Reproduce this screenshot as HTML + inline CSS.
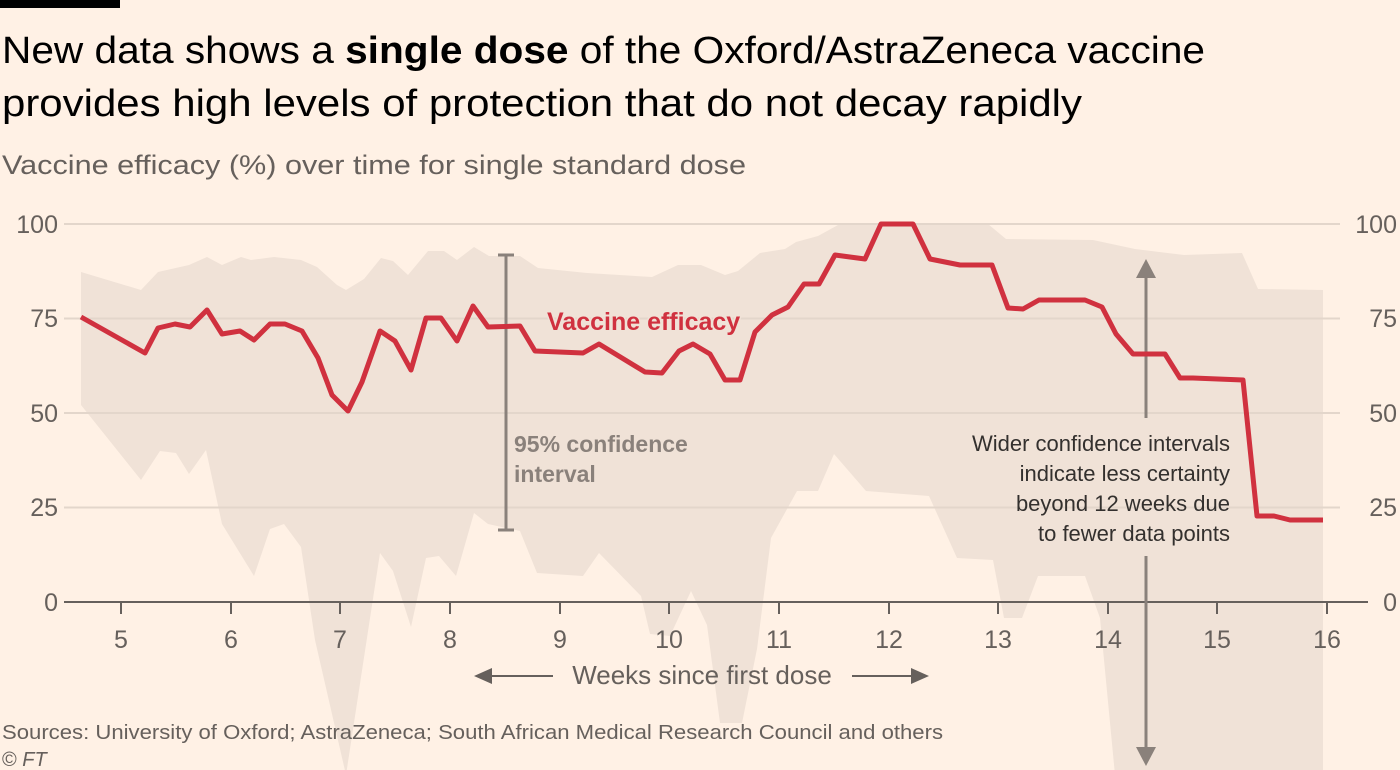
<!DOCTYPE html>
<html><head><meta charset="utf-8"><style>
html,body{margin:0;padding:0;background:#fff1e5;}
svg{display:block;font-family:"Liberation Sans",sans-serif;}
</style></head><body>
<svg width="1400" height="770" viewBox="0 0 1400 770" xmlns="http://www.w3.org/2000/svg">
<rect width="1400" height="770" fill="#fff1e5"/>
<rect x="0" y="0" width="120" height="8" fill="#000"/>
<text x="2" y="63" font-size="38" fill="#000" textLength="1203" lengthAdjust="spacingAndGlyphs">New data shows a <tspan font-weight="bold">single dose</tspan> of the Oxford/AstraZeneca vaccine</text>
<text x="2" y="116" font-size="38" fill="#000" textLength="1080" lengthAdjust="spacingAndGlyphs">provides high levels of protection that do not decay rapidly</text>
<text x="2" y="174" font-size="27" fill="#66605c" textLength="744" lengthAdjust="spacingAndGlyphs">Vaccine efficacy (%) over time for single standard dose</text>

<!-- band -->
<polygon fill="#f0e2d7" points="81,272 141,290 158,272 189,265 207,257 222,265 241,257 251,260 274,257 301,260 317,267 337,285 346,290 364,279 381,258 393,261 408,275 428,251 444,251 457,260 474,247 489,256 520,256 538,268 587,273 652,277 678,265 701,265 725,275 738,271 760,253 785,249 796,242 818,236 838,225 845,224 988,224 1006,239 1093,240 1135,249 1184,255 1242,253 1258,289 1323,290 1323,775 1115,775 1100,618 1085,576 1038,576 1022,618 1004,618 993,560 957,558 929,496 866,491 834,454 818,491 797,491 771,538 757,649 742,723 720,723 707,625 691,591 670,636 650,634 641,596 599,553 583,576 537,573 520,531 488,524 474,513 456,576 439,556 426,558 411,627 393,571 380,553 346,775 315,640 301,547 284,524 270,529 254,576 222,524 206,450 189,474 176,453 160,451 141,480 81,405"/>

<!-- grid -->
<g stroke="#e3d6cb" stroke-width="2">
<line x1="64" y1="224" x2="1340" y2="224"/>
<line x1="64" y1="318.5" x2="1340" y2="318.5"/>
<line x1="64" y1="413" x2="1340" y2="413"/>
<line x1="64" y1="507.5" x2="1340" y2="507.5"/>
</g>
<line x1="64" y1="602" x2="1368" y2="602" stroke="#66605c" stroke-width="2"/>
<g stroke="#66605c" stroke-width="2">
<line x1="121" y1="602" x2="121" y2="614"/><line x1="231" y1="602" x2="231" y2="614"/>
<line x1="340" y1="602" x2="340" y2="614"/><line x1="450" y1="602" x2="450" y2="614"/>
<line x1="560" y1="602" x2="560" y2="614"/><line x1="669" y1="602" x2="669" y2="614"/>
<line x1="779" y1="602" x2="779" y2="614"/><line x1="889" y1="602" x2="889" y2="614"/>
<line x1="998" y1="602" x2="998" y2="614"/><line x1="1108" y1="602" x2="1108" y2="614"/>
<line x1="1217" y1="602" x2="1217" y2="614"/><line x1="1327" y1="602" x2="1327" y2="614"/>
</g>
<g font-size="25" fill="#66605c" text-anchor="middle">
<text x="121" y="648">5</text><text x="231" y="648">6</text><text x="340" y="648">7</text>
<text x="450" y="648">8</text><text x="560" y="648">9</text><text x="669" y="648">10</text>
<text x="779" y="648">11</text><text x="889" y="648">12</text><text x="998" y="648">13</text>
<text x="1108" y="648">14</text><text x="1217" y="648">15</text><text x="1327" y="648">16</text>
</g>
<g font-size="25" fill="#66605c" text-anchor="end">
<text x="58" y="233">100</text><text x="58" y="327">75</text><text x="58" y="422">50</text>
<text x="58" y="516">25</text><text x="58" y="611">0</text>
<text x="1397" y="233">100</text><text x="1397" y="327">75</text><text x="1397" y="422">50</text>
<text x="1397" y="516">25</text><text x="1397" y="611">0</text>
</g>

<!-- error bar -->
<g stroke="#8a817b" stroke-width="3">
<line x1="506" y1="255" x2="506" y2="530"/>
<line x1="498" y1="255" x2="514" y2="255"/>
<line x1="498" y1="530" x2="514" y2="530"/>
</g>
<g font-size="23" font-weight="bold" fill="#8a817b" stroke="#f0e2d7" stroke-width="3" paint-order="stroke">
<text x="514" y="452">95% confidence</text>
<text x="514" y="482">interval</text>
</g>

<!-- vertical arrow -->
<g stroke="#8a817b" stroke-width="3">
<line x1="1146" y1="275" x2="1146" y2="418"/>
<line x1="1146" y1="556" x2="1146" y2="750"/>
</g>
<polygon fill="#8a817b" points="1146,259 1136,278 1156,278"/>
<polygon fill="#8a817b" points="1146,766 1136,747 1156,747"/>
<g font-size="22" fill="#33302e" text-anchor="end">
<text x="1230" y="451">Wider confidence intervals</text>
<text x="1230" y="481">indicate less certainty</text>
<text x="1230" y="511">beyond 12 weeks due</text>
<text x="1230" y="541">to fewer data points</text>
</g>

<!-- line -->
<polyline fill="none" stroke="#d0313f" stroke-width="5" stroke-linejoin="round" points="81,317 145,353 158,328 175,324 190,327 207,310 222,334 240,331 254,340 270,324 285,324 302,331 318,358 332,395 348,411 362,382 380,331 395,341 411,370 426,318 441,318 457,341 473,306 488,327 520,326 535,351 583,353 599,344 645,372 662,373 679,351 693,344 710,354 725,380 740,380 755,332 772,315 788,307 804,284 819,284 835,255 865,259 881,224 913,224 930,259 960,265 992,265 1008,308 1023,309 1039,300 1085,300 1102,307 1116,334 1133,354 1165,354 1180,378 1193,378 1243,380 1257,516 1274,516 1290,520 1323,520"/>
<text x="547" y="330" font-size="25" font-weight="bold" fill="#d0313f" stroke="#f0e2d7" stroke-width="3" paint-order="stroke">Vaccine efficacy</text>

<!-- x axis title -->
<line x1="490" y1="676" x2="553" y2="676" stroke="#66605c" stroke-width="2"/>
<polygon fill="#66605c" points="474,676 492,668 492,684"/>
<line x1="852" y1="676" x2="912" y2="676" stroke="#66605c" stroke-width="2"/>
<polygon fill="#66605c" points="929,676 911,668 911,684"/>
<text x="702" y="684" font-size="26" fill="#66605c" text-anchor="middle">Weeks since first dose</text>

<text x="2" y="739" font-size="20" fill="#66605c" textLength="941" lengthAdjust="spacingAndGlyphs">Sources: University of Oxford; AstraZeneca; South African Medical Research Council and others</text>
<text x="2" y="766" font-size="20" fill="#66605c">© <tspan font-style="italic">FT</tspan></text>
</svg>
</body></html>
